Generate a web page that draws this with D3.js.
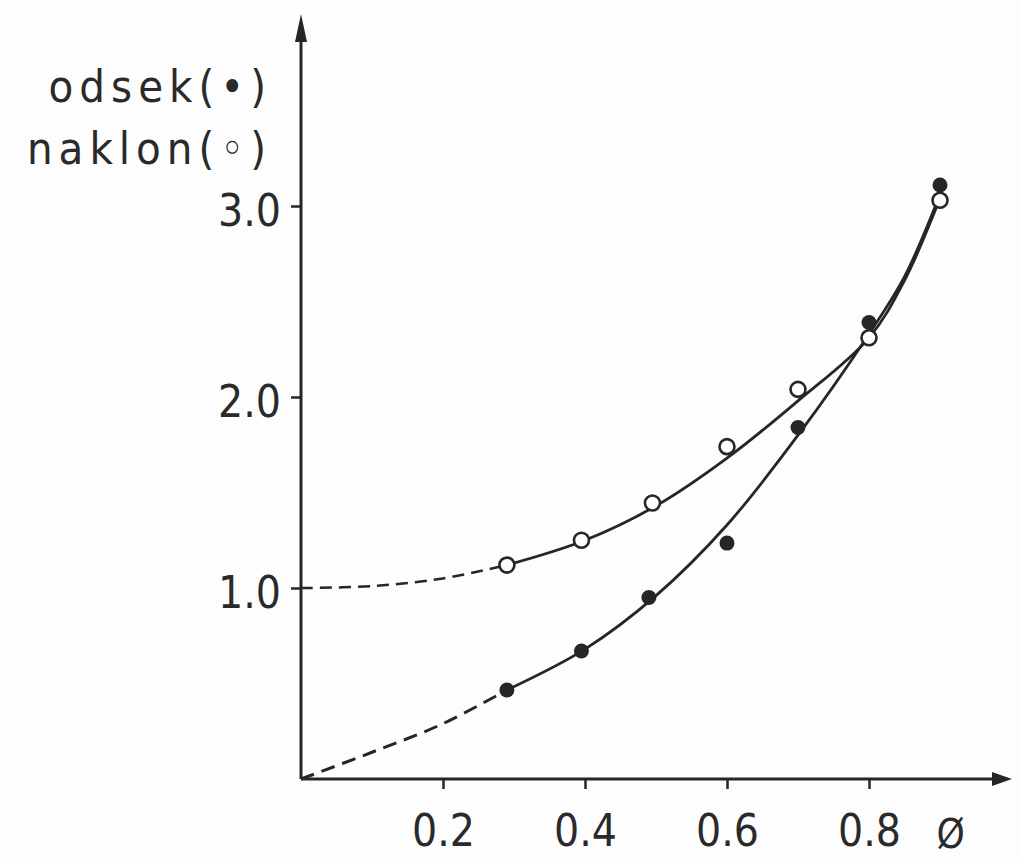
<!DOCTYPE html>
<html>
<head>
<meta charset="utf-8">
<script src="https://cdn.jsdelivr.net/npm/d3@7/dist/d3.min.js"></script>
<style>
  html, body { margin: 0; padding: 0; background: #fdfdfd; }
  svg { display: block; }
  text { font-family: "DejaVu Sans", sans-serif; font-stretch: condensed; fill: #2a2a2a; }
</style>
</head>
<body>
<div id="chart"></div>
<script>
// measured points
const phi = [0.29, 0.395, 0.495, 0.6, 0.7, 0.8, 0.9];
const naklon = [1.12, 1.25, 1.445, 1.74, 2.04, 2.31, 3.03];
const odsekPhi = [0.29, 0.395, 0.49, 0.6, 0.7, 0.8, 0.9];
const odsek = [0.466, 0.67, 0.95, 1.235, 1.84, 2.39, 3.11];

// hand-drawn fitted curves
const naklonFitX = [0.29, 0.4, 0.5, 0.6, 0.7, 0.8, 0.85, 0.9];
const naklonFitY = [1.12, 1.25, 1.43, 1.68, 1.98, 2.31, 2.61, 3.04];
const naklonExtX = [0, 0.1, 0.2, 0.29];
const naklonExtY = [1.0, 1.01, 1.05, 1.12];
const odsekFitX = [0.29, 0.4, 0.5, 0.6, 0.7, 0.8, 0.85, 0.9];
const odsekFitY = [0.466, 0.68, 0.96, 1.33, 1.8, 2.33, 2.63, 3.06];
const odsekExtX = [0, 0.1, 0.2, 0.29];
const odsekExtY = [0, 0.14, 0.29, 0.466];

const xTicks = [0.2, 0.4, 0.6, 0.8];
const yTicks = [1, 2, 3];
const legendLines = ['odsek(•)', 'naklon(◦)'];

const W = 1021, H = 862;
const ink = '#262626';

const x = d3.scaleLinear().domain([0, 1]).range([301, 1011]);
const y = d3.scaleLinear().domain([0, 3]).range([779, 206]);

const svg = d3.select('#chart').append('svg')
  .attr('width', W).attr('height', H);

// axes lines with arrows
svg.append('line')
  .attr('x1', x(0)).attr('x2', 998)
  .attr('y1', y(0)).attr('y2', y(0))
  .attr('stroke', ink).attr('stroke-width', 3);
svg.append('path')
  .attr('d', `M1012,${y(0)} L992,${y(0) - 7} L992,${y(0) + 7} Z`)
  .attr('fill', ink);
svg.append('line')
  .attr('x1', x(0)).attr('x2', x(0))
  .attr('y1', y(0)).attr('y2', 30)
  .attr('stroke', ink).attr('stroke-width', 3);
svg.append('path')
  .attr('d', `M${x(0)},14 L${x(0) - 6},42 L${x(0) + 6},42 Z`)
  .attr('fill', ink);

// ticks
const xAxisG = svg.append('g').attr('transform', `translate(0,${y(0)})`)
  .call(d3.axisBottom(x).tickValues(xTicks).tickSize(10).tickPadding(26).tickFormat(d3.format('.1f')));
const yAxisG = svg.append('g').attr('transform', `translate(${x(0)},0)`)
  .call(d3.axisLeft(y).tickValues(yTicks).tickSize(10).tickPadding(10).tickFormat(d3.format('.1f')));
[xAxisG, yAxisG].forEach((ax) => {
  ax.select('.domain').remove();
  ax.selectAll('line').attr('stroke', ink).attr('stroke-width', 2.5);
  ax.selectAll('text').attr('fill', ink).attr('font-size', 44)
    .attr('font-family', '"DejaVu Sans", sans-serif').style('font-stretch', 'condensed');
});
yAxisG.selectAll('text').attr('dy', '0.45em');

svg.append('text')
  .attr('x', x(0.915)).attr('y', 848)
  .attr('font-size', 40).attr('text-anchor', 'middle')
  .text('Ø');

// legend
svg.selectAll('.legend').data(legendLines).join('text')
  .attr('class', 'legend')
  .attr('x', 272).attr('y', (d, i) => 102 + i * 62)
  .attr('text-anchor', 'end')
  .attr('font-size', 45)
  .attr('letter-spacing', 6)
  .text((d) => d);

// curves
const line = d3.line().x((d) => x(d[0])).y((d) => y(d[1])).curve(d3.curveCatmullRom.alpha(0.5));
const zip = (a, b) => a.map((v, i) => [v, b[i]]);

svg.append('path').datum(zip(naklonExtX, naklonExtY))
  .attr('d', line).attr('fill', 'none').attr('stroke', ink)
  .attr('stroke-width', 2.5).attr('stroke-dasharray', '12 7');
svg.append('path').datum(zip(odsekExtX, odsekExtY))
  .attr('d', line).attr('fill', 'none').attr('stroke', ink)
  .attr('stroke-width', 3).attr('stroke-dasharray', '14 8');
svg.append('path').datum(zip(naklonFitX, naklonFitY))
  .attr('d', line).attr('fill', 'none').attr('stroke', ink).attr('stroke-width', 2.8);
svg.append('path').datum(zip(odsekFitX, odsekFitY))
  .attr('d', line).attr('fill', 'none').attr('stroke', ink).attr('stroke-width', 2.8);

// points
svg.selectAll('.open').data(zip(phi, naklon)).join('circle')
  .attr('class', 'open')
  .attr('cx', (d) => x(d[0])).attr('cy', (d) => y(d[1]))
  .attr('r', 7.5).attr('fill', '#fdfdfd').attr('stroke', ink).attr('stroke-width', 2.6);
svg.selectAll('.filled').data(zip(odsekPhi, odsek)).join('circle')
  .attr('class', 'filled')
  .attr('cx', (d) => x(d[0])).attr('cy', (d) => y(d[1]))
  .attr('r', 7.5).attr('fill', ink);
</script>
</body>
</html>
